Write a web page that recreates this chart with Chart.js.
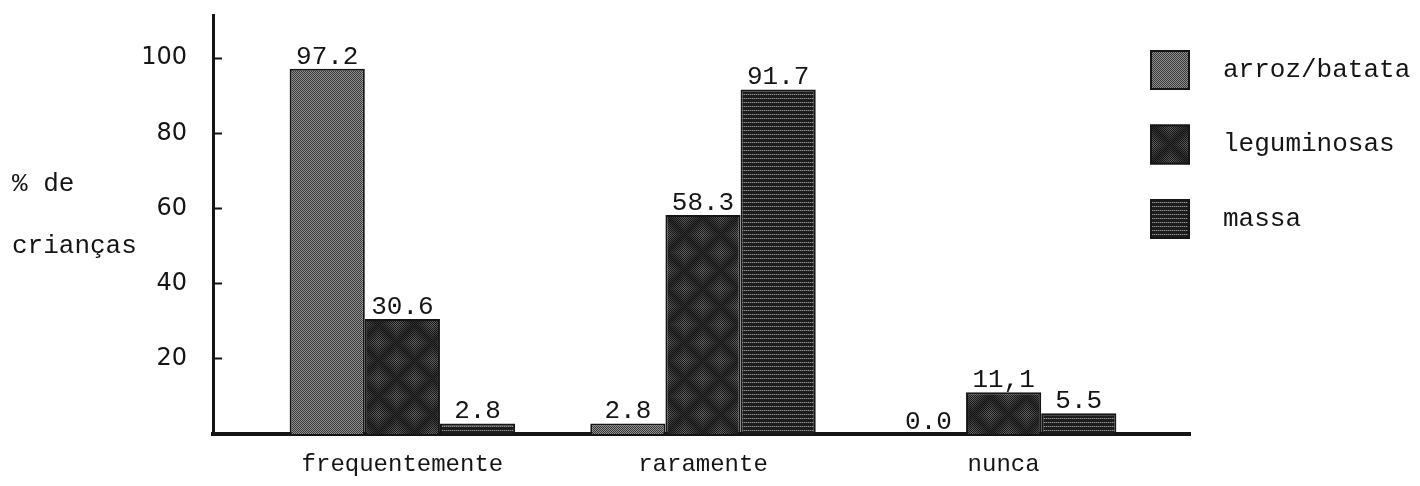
<!DOCTYPE html>
<html>
<head>
<meta charset="utf-8">
<script src="https://cdn.jsdelivr.net/npm/chart.js@4.4.1/dist/chart.umd.min.js"></script>
<style>
  body { margin: 0; background: #fff; }
  #caja { width: 1420px; height: 486px; }
</style>
</head>
<body>
<div id="caja"><canvas id="grafico"></canvas></div>
<script>
// categorias y series (% de crianças)
var categorias = ['frequentemente', 'raramente', 'nunca'];
var series = ['arroz/batata', 'leguminosas', 'massa'];
var arroz = [97.2, 2.8, 0.0];
var leguminosas = [30.6, 58.3, 11.1];
var massa = [2.8, 91.7, 5.5];
// textos tal como aparecen encima de las barras
var textoArroz = ['97.2', '2.8', '0.0'];
var textoLeguminosas = ['30.6', '58.3', '11,1'];
var textoMassa = ['2.8', '91.7', '5.5'];
var marcasY = [20, 40, 60, 80, 100];
var tituloY = ['% de', 'crianças'];

var ctx = document.getElementById('grafico').getContext('2d');
var tinta = '#151515';

// tramas de grises parecidas a las del original
function trama(tam, fn) {
  var c = document.createElement('canvas');
  c.width = tam; c.height = tam;
  var g = c.getContext('2d');
  var img = g.createImageData(tam, tam);
  for (var y = 0; y < tam; y++) {
    for (var x = 0; x < tam; x++) {
      var v = fn(x, y), k = (y * tam + x) * 4;
      img.data[k] = img.data[k + 1] = img.data[k + 2] = v;
      img.data[k + 3] = 255;
    }
  }
  g.putImageData(img, 0, 0);
  return ctx.createPattern(c, 'repeat');
}

var tramaArroz = trama(4, function(x, y) {
  return (x + y) % 2 === 0 ? 55 : 145;
});
var tramaLeg = trama(36, function(x, y) {
  if ((x + y) % 2 === 0) return 22;
  var d = Math.abs(x - 18) + Math.abs(y - 18);
  return 40 + Math.round(70 * Math.abs(d - 18) / 18);
});
var tramaMassa = trama(4, function(x, y) {
  if (y === 2) return x % 2 === 0 ? 150 : 70;
  return 28;
});

function puntos(vals) {
  return vals.map(function(v, i) { return { x: i, y: v }; });
}

// numeros encima de cada barra
var rotulos = {
  id: 'rotulos',
  afterDatasetsDraw: function(chart) {
    var c = chart.ctx;
    c.save();
    c.font = '26px "Liberation Mono"';
    c.fillStyle = tinta;
    c.textAlign = 'center';
    c.textBaseline = 'alphabetic';
    chart.data.datasets.forEach(function(ds, i) {
      chart.getDatasetMeta(i).data.forEach(function(bar, j) {
        c.fillText(ds.textos[j], bar.x, bar.y - 5);
      });
    });
    c.restore();
  }
};

// leyenda vertical a la derecha
var leyenda = {
  id: 'leyenda',
  afterDraw: function(chart) {
    var c = chart.ctx, a = chart.chartArea;
    c.save();
    c.font = '26px "Liberation Mono"';
    c.textBaseline = 'middle';
    c.textAlign = 'left';
    chart.data.datasets.forEach(function(ds, i) {
      var x = a.right - 40, y = a.top + 35 + i * 74.5;
      c.fillStyle = ds.backgroundColor;
      c.fillRect(x, y, 40, 40);
      c.strokeStyle = tinta;
      c.lineWidth = 2;
      c.strokeRect(x + 1, y + 1, 38, 38);
      c.fillStyle = tinta;
      c.fillText(ds.label, x + 73, y + 20);
    });
    c.restore();
  }
};

// titulo del eje y en horizontal, dos lineas
var tituloEje = {
  id: 'tituloEje',
  afterDraw: function(chart) {
    var c = chart.ctx, esc = chart.scales.y;
    c.save();
    c.font = '26px "Liberation Mono"';
    c.fillStyle = tinta;
    c.textAlign = 'left';
    c.textBaseline = 'middle';
    c.fillText(tituloY[0], 12, esc.getPixelForValue(66.5));
    c.fillText(tituloY[1], 12, esc.getPixelForValue(50));
    c.restore();
  }
};

var grafico = new Chart(ctx, {
  type: 'bar',
  data: {
    datasets: [
      { label: series[0], data: puntos(arroz), backgroundColor: tramaArroz, textos: textoArroz },
      { label: series[1], data: puntos(leguminosas), backgroundColor: tramaLeg, textos: textoLeguminosas },
      { label: series[2], data: puntos(massa), backgroundColor: tramaMassa, textos: textoMassa }
    ]
  },
  options: {
    responsive: true,
    maintainAspectRatio: false,
    animation: false,
    layout: { padding: { top: 15, right: 230, bottom: 0, left: 0 } },
    datasets: {
      bar: { categoryPercentage: 0.75, barPercentage: 1, borderWidth: 2, borderColor: tinta }
    },
    plugins: { legend: { display: false }, tooltip: { enabled: false } },
    scales: {
      x: {
        type: 'linear',
        min: -0.63,
        max: 2.62,
        offset: false,
        afterFit: function(s) { s.height = 52; },
        grid: { display: false, drawTicks: false, offset: false },
        border: { display: true, color: tinta, width: 4 },
        afterBuildTicks: function(s) {
          s.ticks = categorias.map(function(c, i) { return { value: i }; });
        },
        ticks: {
          padding: 16,
          maxRotation: 0,
          autoSkip: false,
          color: tinta,
          font: { family: 'Liberation Mono', size: 24 },
          callback: function(v) { return categorias[v]; }
        }
      },
      y: {
        min: 0,
        max: 111.5,
        afterFit: function(s) {
          s.width = 213;
          s.paddingTop = 0;
          s.paddingBottom = 0;
        },
        afterBuildTicks: function(s) {
          s.ticks = marcasY.map(function(v) { return { value: v }; });
        },
        grid: { drawOnChartArea: false, tickLength: -9, tickColor: tinta, tickWidth: 2 },
        border: { color: tinta, width: 3 },
        ticks: { padding: 35, color: tinta, font: { family: 'DejaVu Sans', size: 24 } }
      }
    }
  },
  plugins: [rotulos, leyenda, tituloEje]
});
</script>
</body>
</html>
